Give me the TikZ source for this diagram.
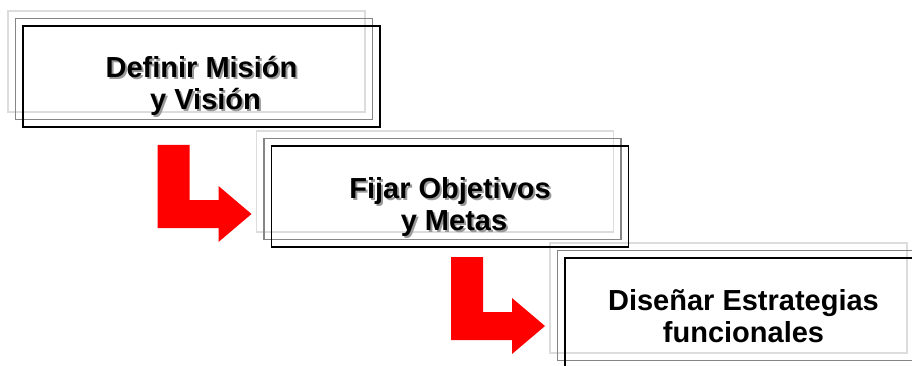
\documentclass[tikz,border=0pt]{standalone}
\usepackage{fontspec}
\setmainfont{Liberation Sans}
\usepackage{tikz}
\usetikzlibrary{calc}
\usetikzlibrary{backgrounds}
\definecolor{marcoclaro}{HTML}{DCDCDC}
\definecolor{marcomedio}{HTML}{858585}
\definecolor{sombracolor}{HTML}{9A9A9A}
\definecolor{flechacolor}{HTML}{FF0000}

\begin{document}
\begin{tikzpicture}[x=1pt,y=-1pt,
  caja/.style={draw=black,line width=1.6pt,inner sep=0pt,outer sep=0pt,minimum width=357pt},
  texto/.style={align=center,inner sep=0pt,anchor=base,font=\fontsize{29}{32}\selectfont\bfseries},
  sombra/.style={texto,text=sombracolor},
  flecha/.style={fill=flechacolor,draw=none}]
\useasboundingbox (0,0) rectangle (912,366);
\clip (0,0) rectangle (912,366);
%% cajas
\node[caja,minimum height=101pt] (mision) at (201.5,76.5) {};
\node[caja,minimum height=101pt] (objetivos) at (450,196.5) {};
\node[caja,minimum height=110pt] (estrategias) at (743.5,313) {};
\begin{scope}[on background layer]
\foreach \n in {mision,objetivos,estrategias} {
   \draw[marcoclaro,line width=1.5pt] ([shift={(-15pt,15pt)}]\n.south west) rectangle ([shift={(-15pt,15pt)}]\n.north east);
   \draw[marcomedio,line width=1.8pt] ([shift={(-7.5pt,7.5pt)}]\n.south west) rectangle ([shift={(-7.5pt,7.5pt)}]\n.north east);
}
\end{scope}
%% textos (base = ultima linea)
\node[sombra] (mision-s) at ([shift={(2pt,-86pt)}]mision.north) {Definir Misión\\\ y Visión};
\node[texto] (mision-t) at ([yshift=-84pt]mision.north) {Definir Misión\\\ y Visión};
\node[sombra] (objetivos-s) at ([shift={(2pt,-86pt)}]objetivos.north) {Fijar Objetivos\\\ y Metas};
\node[texto] (objetivos-t) at ([yshift=-84pt]objetivos.north) {Fijar Objetivos\\\ y Metas};
\node[texto] (estrategias-t) at ([yshift=-84pt]estrategias.north) {Diseñar Estrategias\\funcionales};
%% flechas
\foreach \n in {objetivos,estrategias}
   \fill[flecha] ([shift={(-114pt,1pt)}]\n.north west) -- ++(32,0) -- ++(0,55) -- ++(29,0) -- ++(0,-14)
      -- ++(33,28) -- ++(-33,28) -- ++(0,-14) -- ++(-61,0) -- cycle;
\end{tikzpicture}
\end{document}
